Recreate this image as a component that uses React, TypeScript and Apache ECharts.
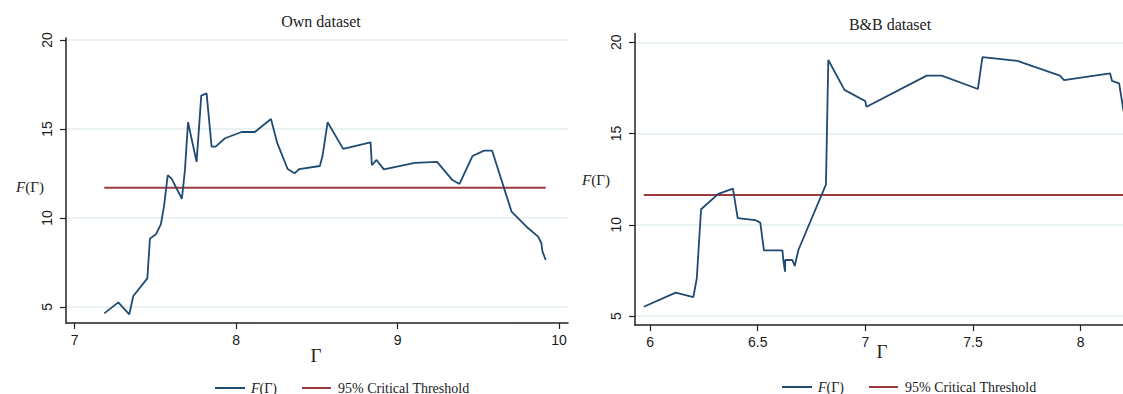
import React, { useEffect, useRef } from "react";
import * as echarts from "echarts";

// ---- Data: Own dataset ----
const ownGamma = [7.183, 7.27, 7.338, 7.363, 7.45, 7.466, 7.503, 7.534, 7.553, 7.576, 7.6, 7.664, 7.683, 7.702, 7.755, 7.784, 7.817, 7.848, 7.873, 7.931, 8.034, 8.116, 8.216, 8.255, 8.319, 8.362, 8.391, 8.519, 8.535, 8.567, 8.663, 8.833, 8.841, 8.87, 8.915, 9.107, 9.245, 9.34, 9.384, 9.464, 9.536, 9.586, 9.706, 9.799, 9.871, 9.891, 9.898, 9.918];
const ownF = [4.64, 5.26, 4.59, 5.62, 6.61, 8.84, 9.08, 9.66, 10.64, 12.4, 12.21, 11.08, 12.7, 15.38, 13.15, 16.87, 17.0, 14.01, 14.01, 14.48, 14.83, 14.83, 15.56, 14.2, 12.75, 12.51, 12.75, 12.92, 13.48, 15.38, 13.88, 14.25, 12.96, 13.26, 12.73, 13.09, 13.15, 12.13, 11.91, 13.48, 13.78, 13.78, 10.36, 9.51, 8.95, 8.58, 8.11, 7.64];
const ownThresholdGamma = [7.183, 9.918];
const ownThreshold = [11.7, 11.7];

// ---- Data: B&B dataset ----
const bbGamma = [5.971, 6.119, 6.201, 6.217, 6.237, 6.317, 6.385, 6.407, 6.488, 6.512, 6.529, 6.615, 6.619, 6.627, 6.628, 6.661, 6.672, 6.689, 6.817, 6.828, 6.903, 6.999, 7.006, 7.285, 7.355, 7.523, 7.544, 7.706, 7.904, 7.923, 8.137, 8.146, 8.179, 8.2];
const bbF = [5.51, 6.28, 6.04, 7.07, 10.85, 11.69, 11.98, 10.36, 10.26, 10.12, 8.6, 8.6, 8.07, 7.43, 8.07, 8.07, 7.74, 8.62, 12.2, 19.03, 17.39, 16.78, 16.47, 18.17, 18.17, 17.44, 19.18, 18.98, 18.17, 17.93, 18.3, 17.88, 17.75, 16.2];
const bbThresholdGamma = [5.971, 8.3];
const bbThreshold = [11.63, 11.63];

// ---- Tick labels ----
const ownXTicks = [7, 8, 9, 10];
const bbXTicks = [6, 6.5, 7, 7.5, 8];
const yTicks = [5, 10, 15, 20];

const titles = ["Own dataset", "B&B dataset"];
const seriesNames = ["F(Γ)", "95% Critical Threshold"];

const BLUE = "#1f4a72";
const RED = "#9a3a40";
const GRID = "#e4eef0";
const SANS = "Liberation Sans";
const SERIF = "Liberation Serif";

const pairs = (xs: number[], ys: number[]) => xs.map((x, i) => [x, ys[i]]);

function xAxisOf(gridIndex: number, min: number, max: number, ticks: number[]) {
  return {
    type: "value",
    gridIndex,
    min,
    max,
    axisLine: { show: true, lineStyle: { color: "#222", width: 1.5 } },
    axisTick: { show: true, customValues: ticks, length: 6, lineStyle: { color: "#222", width: 1.2 } },
    axisLabel: { customValues: ticks, fontSize: 14, margin: 10, color: "#1a1a1a", fontFamily: SANS },
    splitLine: { show: false },
  };
}

function yAxisOf(gridIndex: number, min: number, max: number) {
  return {
    type: "value",
    gridIndex,
    min,
    max,
    axisLine: { show: true, lineStyle: { color: "#222", width: 1.5 } },
    axisTick: { show: true, customValues: yTicks, length: 6, lineStyle: { color: "#222", width: 1.2 } },
    axisLabel: { customValues: yTicks, rotate: 90, fontSize: 14, margin: 12, color: "#1a1a1a", fontFamily: SANS },
    splitLine: { show: true, lineStyle: { color: GRID, width: 1.5 } },
  };
}

function legendGraphic(x0: number, y: number) {
  return [
    { type: "line", shape: { x1: x0, y1: y, x2: x0 + 30, y2: y }, style: { stroke: BLUE, lineWidth: 2 } },
    {
      type: "text",
      x: x0 + 36,
      y,
      style: {
        text: "{i|F}(Γ)",
        rich: { i: { fontStyle: "italic", fontFamily: SERIF, fontSize: 14, fill: "#222" } },
        fontFamily: SERIF,
        fontSize: 14,
        fill: "#222",
        verticalAlign: "middle",
      },
    },
    { type: "line", shape: { x1: x0 + 87, y1: y, x2: x0 + 116, y2: y }, style: { stroke: RED, lineWidth: 2 } },
    {
      type: "text",
      x: x0 + 123,
      y,
      style: { text: seriesNames[1], fontFamily: SERIF, fontSize: 14, fill: "#222", verticalAlign: "middle" },
    },
  ];
}

function axisNameF(x: number, y: number) {
  return {
    type: "text",
    x,
    y,
    style: {
      text: "{i|F}(Γ)",
      rich: { i: { fontStyle: "italic", fontFamily: SERIF, fontSize: 15, fill: "#222" } },
      fontFamily: SERIF,
      fontSize: 15,
      fill: "#222",
      align: "center",
      verticalAlign: "middle",
    },
  };
}

export default function App() {
  const ref = useRef<HTMLDivElement>(null);

  useEffect(() => {
    if (!ref.current) return;
    const chart = echarts.init(ref.current, undefined, { renderer: "svg" });
    const option: any = {
      animation: false,
      backgroundColor: "#ffffff",
      grid: [
        { left: 66, top: 38, width: 502, bottom: 71 },
        { left: 635, top: 33.5, right: 0, bottom: 69 },
      ],
      xAxis: [xAxisOf(0, 6.946, 10.056, ownXTicks), xAxisOf(1, 5.93, 8.197, bbXTicks)],
      yAxis: [yAxisOf(0, 4.1, 20.11), yAxisOf(1, 4.51, 20.48)],
      series: [
        {
          name: seriesNames[0],
          type: "line",
          xAxisIndex: 0,
          yAxisIndex: 0,
          data: pairs(ownGamma, ownF),
          showSymbol: false,
          symbol: "none",
          lineStyle: { color: BLUE, width: 1.8 },
          z: 3,
        },
        {
          name: seriesNames[1],
          type: "line",
          xAxisIndex: 0,
          yAxisIndex: 0,
          data: pairs(ownThresholdGamma, ownThreshold),
          showSymbol: false,
          symbol: "none",
          lineStyle: { color: RED, width: 2 },
          z: 2,
        },
        {
          name: seriesNames[0],
          type: "line",
          xAxisIndex: 1,
          yAxisIndex: 1,
          data: pairs(bbGamma, bbF),
          showSymbol: false,
          symbol: "none",
          clip: true,
          lineStyle: { color: BLUE, width: 1.8 },
          z: 3,
        },
        {
          name: seriesNames[1],
          type: "line",
          xAxisIndex: 1,
          yAxisIndex: 1,
          data: pairs(bbThresholdGamma, bbThreshold),
          showSymbol: false,
          symbol: "none",
          clip: true,
          lineStyle: { color: RED, width: 2 },
          z: 2,
        },
      ],
      graphic: [
        {
          type: "text",
          x: 321,
          y: 21,
          style: { text: titles[0], fontFamily: SERIF, fontSize: 16, fill: "#222", align: "center", verticalAlign: "middle" },
        },
        {
          type: "text",
          x: 890,
          y: 24,
          style: { text: titles[1], fontFamily: SERIF, fontSize: 16, fill: "#222", align: "center", verticalAlign: "middle" },
        },
        axisNameF(30, 187),
        axisNameF(596, 180),
        {
          type: "text",
          x: 316,
          y: 355,
          style: { text: "Γ", fontFamily: SERIF, fontSize: 19, fill: "#222", align: "center", verticalAlign: "middle" },
        },
        {
          type: "text",
          x: 882,
          y: 351,
          style: { text: "Γ", fontFamily: SERIF, fontSize: 19, fill: "#222", align: "center", verticalAlign: "middle" },
        },
        ...legendGraphic(215, 388),
        ...legendGraphic(782, 387),
      ],
    };
    chart.setOption(option);
    return () => chart.dispose();
  }, []);

  return (
    <div
      ref={ref}
      style={{ position: "absolute", left: 0, top: 0, width: 1123, height: 394 }}
    />
  );
}
